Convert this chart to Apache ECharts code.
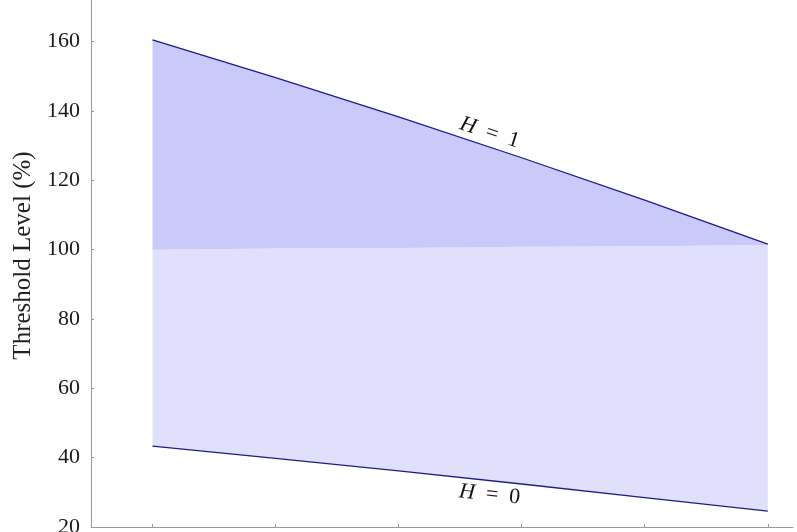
<!DOCTYPE html>
<html><head><meta charset="utf-8">
<script src="https://cdn.jsdelivr.net/npm/echarts@6/dist/echarts.min.js"></script>
<style>html,body{margin:0;padding:0;background:#fff}#c{width:797px;height:532px}</style>
</head><body><div id="c"></div>
<script>
// ---- data ----
const xPositions = [0, 1, 2, 3, 4, 5];
const upperH1   = [160.5, 149.6, 138.3, 126.5, 114.3, 101.6];
const lowerH0   = [43.3, 39.8, 36.2, 32.4, 28.5, 24.6];
const bandEdge  = [100.0, 100.3, 100.5, 100.8, 101.0, 101.3];
const xTickValues = [0, 1, 2, 3, 4, 5];
const yTickMin = 20, yTickMax = 160, yTickStep = 20;
const yAxisTitle = 'Threshold Level (%)';
const curveLabels = [
  { name: 'H1', x: 2.74, y: 133.7, num: '1', angle: -18 },
  { name: 'H0', x: 2.74, y: 29.3, num: '0', angle: -6 }
];

const FONT = '"Liberation Serif", "Times New Roman", serif';
const NAVY = '#1c1c8c';
const AXIS = '#9a9a9a';

const pts = (ys) => xPositions.map((x, i) => [x, ys[i]]);

// polygon between two curves, projected through the chart's own scales
const bandSeries = (name, bottom, top, color) => ({
  name, type: 'custom', data: [0], z: 2, silent: true,
  renderItem: (params, api) => {
    const poly = [];
    xPositions.forEach((x, i) => poly.push(api.coord([x, bottom[i]])));
    for (let i = xPositions.length - 1; i >= 0; i--) poly.push(api.coord([xPositions[i], top[i]]));
    return { type: 'polygon', shape: { points: poly }, style: { fill: color, stroke: null } };
  }
});

const labelMark = (l) => ({
  coord: [l.x, l.y],
  symbol: 'circle', symbolSize: 1,
  itemStyle: { color: 'rgba(0,0,0,0)' },
  label: {
    show: true, position: 'inside', rotate: l.angle,
    formatter: '{i|H}{t|  =  ' + l.num + '}',
    rich: {
      i: { fontFamily: FONT, fontStyle: 'italic', fontSize: 22, color: '#111' },
      t: { fontFamily: FONT, fontSize: 22, color: '#111' }
    }
  }
});

const chart = echarts.init(document.getElementById('c'), null, { renderer: 'canvas' });
chart.setOption({
  animation: false,
  backgroundColor: '#ffffff',
  grid: { left: 91, right: 4, top: 0, bottom: 5, containLabel: false, outerBoundsMode: 'none' },
  xAxis: {
    type: 'value', min: -0.5, max: 5.205,
    axisLine: { show: true, onZero: false, lineStyle: { color: AXIS, width: 1 } },
    axisTick: { show: true, inside: true, length: 3, lineStyle: { color: AXIS }, customValues: xTickValues },
    axisLabel: { show: false },
    splitLine: { show: false }
  },
  yAxis: {
    type: 'value', min: yTickMin, max: 172, interval: yTickStep,
    name: yAxisTitle, nameLocation: 'middle', nameGap: 54, nameRotate: 90,
    nameTextStyle: { fontFamily: FONT, fontSize: 25, color: '#222', padding: [0, 0, 0, 16] },
    axisLine: { show: true, onZero: false, lineStyle: { color: AXIS, width: 1 } },
    axisTick: { show: true, inside: true, length: 3, lineStyle: { color: AXIS } },
    axisLabel: { fontFamily: FONT, fontSize: 22, color: '#1a1a1a', margin: 11, showMaxLabel: false,
      formatter: (v) => (v >= yTickMin && v <= yTickMax) ? String(v) : '' },
    splitLine: { show: false }
  },
  series: [
    bandSeries('lightBand', lowerH0, bandEdge, '#e0e0fc'),
    bandSeries('darkBand', bandEdge, upperH1, '#c9c9fa'),
    { name: 'H0', type: 'line', data: pts(lowerH0), symbol: 'none',
      lineStyle: { color: NAVY, width: 1.3 }, z: 5 },
    { name: 'H1', type: 'line', data: pts(upperH1), symbol: 'none',
      lineStyle: { color: NAVY, width: 1.3 }, z: 5,
      markPoint: { silent: true, data: curveLabels.map(labelMark) } }
  ]
});
</script>
</body></html>
